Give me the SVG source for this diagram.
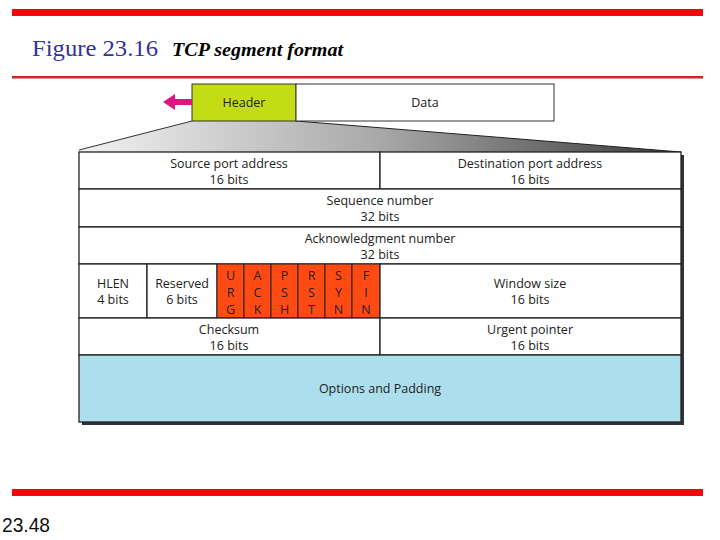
<svg xmlns="http://www.w3.org/2000/svg" width="720" height="540" viewBox="0 0 720 540">
<defs>
<linearGradient id="g" x1="0" y1="0" x2="1" y2="0">
<stop offset="0" stop-color="#f2f2f2"/>
<stop offset="0.5" stop-color="#a8a8a8"/>
<stop offset="1" stop-color="#3a3a3a"/>
</linearGradient>
<style>
.t{font-family:"Open Sans","Liberation Sans",sans-serif;font-size:12.5px;fill:#222;text-anchor:middle}
.c{fill:#fff;stroke:#222;stroke-width:1.3}
.f{fill:#ff4a14;stroke:#222;stroke-width:1}
</style>
</defs>
<rect width="720" height="540" fill="#fff"/>
<rect x="12" y="9" width="691" height="7" fill="#ee0a0a"/>
<rect x="12" y="76" width="691" height="2.5" fill="#c42a2a"/>
<rect x="12" y="489" width="691" height="7" fill="#ee0a0a"/>
<text x="32" y="56" font-family="Liberation Serif,serif" font-size="23" fill="#333399" textLength="126" lengthAdjust="spacingAndGlyphs">Figure 23.16</text>
<text x="172" y="56" font-family="Liberation Serif,serif" font-size="19" font-style="italic" font-weight="bold" fill="#000" textLength="171" lengthAdjust="spacingAndGlyphs">TCP segment format</text>
<text x="2" y="532" font-family="Liberation Sans,sans-serif" font-size="21" fill="#111" textLength="48" lengthAdjust="spacingAndGlyphs">23.48</text>
<polygon points="192,121 296,121 681,152 79,152 79,150" fill="url(#g)"/>
<line x1="192" y1="121" x2="79" y2="150" stroke="#333" stroke-width="1"/>
<line x1="296" y1="121" x2="681" y2="152" stroke="#222" stroke-width="1"/>
<g id="header"><rect x="192" y="84" width="104" height="37" fill="#c4dc14" stroke="#333" stroke-width="1"/><text class="t" x="244" y="107">Header</text></g>
<g id="data"><rect x="296" y="84" width="258" height="37" fill="#fff" stroke="#333" stroke-width="1"/><text class="t" x="425" y="107">Data</text></g>
<g id="arrow"><polygon points="163,102 175,94 175,99 192,99 192,105 175,105 175,110" fill="#e0157f"/></g>
<rect x="82" y="155" width="602" height="270" fill="#333"/>
<g id="src"><rect class="c" x="79" y="152" width="301" height="37"/><text class="t" x="229" y="168">Source port address</text><text class="t" x="229" y="184">16 bits</text></g>
<g id="dst"><rect class="c" x="380" y="152" width="301" height="37"/><text class="t" x="530" y="168">Destination port address</text><text class="t" x="530" y="184">16 bits</text></g>
<g id="seq"><rect class="c" x="79" y="189" width="602" height="38"/><text class="t" x="380" y="205">Sequence number</text><text class="t" x="380" y="221">32 bits</text></g>
<g id="ack"><rect class="c" x="79" y="227" width="602" height="37"/><text class="t" x="380" y="243">Acknowledgment number</text><text class="t" x="380" y="259">32 bits</text></g>
<g id="hlen"><rect class="c" x="79" y="264" width="68" height="54"/><text class="t" x="113" y="288">HLEN</text><text class="t" x="113" y="304">4 bits</text></g>
<g id="res"><rect class="c" x="147" y="264" width="70" height="54"/><text class="t" x="182" y="288">Reserved</text><text class="t" x="182" y="304">6 bits</text></g>
<g id="urg"><rect class="f" x="217" y="264" width="27" height="54"/><text class="t" x="230.5" y="280">U</text><text class="t" x="230.5" y="297">R</text><text class="t" x="230.5" y="314">G</text></g>
<g id="ackf"><rect class="f" x="244" y="264" width="27" height="54"/><text class="t" x="257.5" y="280">A</text><text class="t" x="257.5" y="297">C</text><text class="t" x="257.5" y="314">K</text></g>
<g id="psh"><rect class="f" x="271" y="264" width="27" height="54"/><text class="t" x="284.5" y="280">P</text><text class="t" x="284.5" y="297">S</text><text class="t" x="284.5" y="314">H</text></g>
<g id="rst"><rect class="f" x="298" y="264" width="27" height="54"/><text class="t" x="311.5" y="280">R</text><text class="t" x="311.5" y="297">S</text><text class="t" x="311.5" y="314">T</text></g>
<g id="syn"><rect class="f" x="325" y="264" width="27" height="54"/><text class="t" x="338.5" y="280">S</text><text class="t" x="338.5" y="297">Y</text><text class="t" x="338.5" y="314">N</text></g>
<g id="fin"><rect class="f" x="352" y="264" width="28" height="54"/><text class="t" x="366" y="280">F</text><text class="t" x="366" y="297">I</text><text class="t" x="366" y="314">N</text></g>
<g id="win"><rect class="c" x="380" y="264" width="301" height="54"/><text class="t" x="530" y="288">Window size</text><text class="t" x="530" y="304">16 bits</text></g>
<g id="chk"><rect class="c" x="79" y="318" width="301" height="37"/><text class="t" x="229" y="334">Checksum</text><text class="t" x="229" y="350">16 bits</text></g>
<g id="urp"><rect class="c" x="380" y="318" width="301" height="37"/><text class="t" x="530" y="334">Urgent pointer</text><text class="t" x="530" y="350">16 bits</text></g>
<g id="opt"><rect x="79" y="355" width="602" height="67" fill="#acdeee" stroke="#222" stroke-width="1.3"/><text class="t" x="380" y="393">Options and Padding</text></g>
</svg>
